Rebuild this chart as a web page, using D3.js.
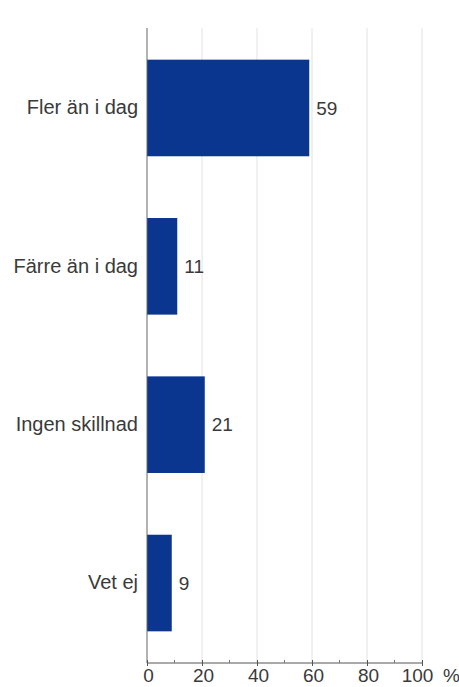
<!DOCTYPE html>
<html><head><meta charset="utf-8">
<script src="https://cdn.jsdelivr.net/npm/d3@7"></script>
<style>body{margin:0;background:#fff}svg{display:block}</style>
</head><body>
<script>
const categories = ["Fler än i dag", "Färre än i dag", "Ingen skillnad", "Vet ej"];
const values = [59, 11, 21, 9];
const majorTicks = [0, 20, 40, 60, 80, 100];
const minorTicks = [10, 30, 50, 70, 90];
const unitLabel = "%";

const W = 459, H = 687;
const m = {left: 147, right: 37, top: 28, bottom: 24};
const svg = d3.select("body").append("svg").attr("width", W).attr("height", H);
const x = d3.scaleLinear().domain([0, 100]).range([m.left, W - m.right]);
const y = d3.scaleBand().domain(categories).range([m.top, H - m.bottom]).paddingInner(0.39).paddingOuter(0.2);
const font = "Arial, 'Liberation Sans', sans-serif";
const fs = 19;
const txt = "#3a3a3a";

// gridlines
svg.append("g").selectAll("line").data(majorTicks.slice(1)).join("line")
  .attr("x1", d => x(d)).attr("x2", d => x(d))
  .attr("y1", m.top).attr("y2", H - m.bottom)
  .attr("stroke", "#e2e2e2").attr("stroke-width", 1);

// bars
svg.append("g").selectAll("rect").data(categories).join("rect")
  .attr("x", x(0)).attr("y", d => y(d))
  .attr("width", (d, i) => x(values[i]) - x(0))
  .attr("height", y.bandwidth())
  .attr("fill", "#0a3690");

// value labels
svg.append("g").selectAll("text").data(categories).join("text")
  .attr("x", (d, i) => x(values[i]) + 7)
  .attr("y", d => y(d) + y.bandwidth() / 2)
  .attr("dy", "0.35em")
  .attr("font-family", font).attr("font-size", fs).attr("fill", txt)
  .text((d, i) => values[i]);

// y axis
const ya = svg.append("g").attr("transform", `translate(${x(0)},0)`)
  .call(d3.axisLeft(y).tickSize(0).tickPadding(9));
ya.select(".domain").attr("stroke", "#666").attr("d", `M0,${m.top}V${H - m.bottom}`);
ya.selectAll("text").attr("font-family", font).attr("font-size", 20).attr("fill", txt);

// x axis
const xa = svg.append("g").attr("transform", `translate(0,${H - m.bottom})`)
  .call(d3.axisBottom(x).tickValues(majorTicks).tickSize(3).tickPadding(3).tickFormat(d3.format("d")));
xa.select(".domain").attr("stroke", "#555").attr("d", `M${x(0)},0H${x(100)}`);
xa.selectAll(".tick line").attr("stroke", "#555").attr("y1", -3);
xa.selectAll(".tick text").attr("font-family", font).attr("font-size", fs).attr("fill", txt)
  .attr("dx", d => d === 100 ? -5 : 1);
xa.append("g").selectAll("line").data(minorTicks).join("line")
  .attr("x1", d => x(d)).attr("x2", d => x(d)).attr("y1", -3).attr("y2", 0)
  .attr("stroke", "#777");
xa.append("text").attr("x", x(100) + 21).attr("y", 6).attr("dy", "0.71em")
  .attr("text-anchor", "start")
  .attr("font-family", font).attr("font-size", fs).attr("fill", txt).text(unitLabel);
</script>
</body></html>
